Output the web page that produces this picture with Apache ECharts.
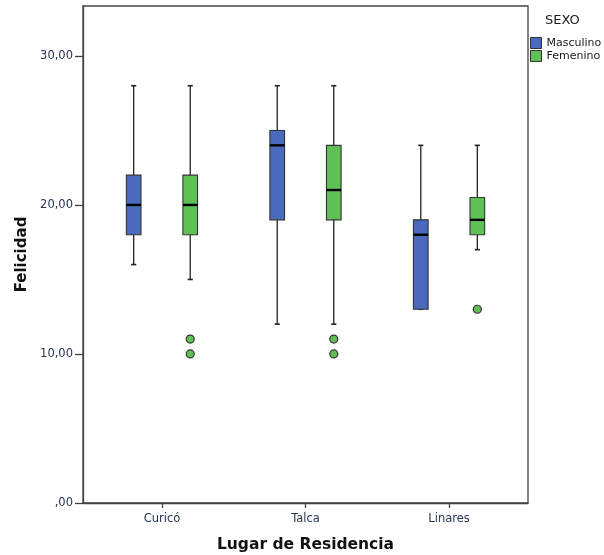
<!DOCTYPE html>
<html>
<head>
<meta charset="utf-8">
<title>Felicidad por Lugar de Residencia</title>
<script src="https://cdn.jsdelivr.net/npm/echarts@6/dist/echarts.min.js"></script>
<style>
  html, body { margin: 0; padding: 0; background: #fff; }
  #chart { width: 604px; height: 555px; }
</style>
</head>
<body>
<div id="chart"></div>
<script>
// Categories on the x axis
const categories = ['Curicó', 'Talca', 'Linares'];

// Box statistics per category: [categoryIndex, min, Q1, median, Q3, max]
const masculinoBoxes = [
  [0, 16, 18, 20, 22, 28],
  [1, 12, 19, 24, 25, 28],
  [2, 13, 13, 18, 19, 24]
];
const femeninoBoxes = [
  [0, 15, 18, 20, 22, 28],
  [1, 12, 19, 21, 24, 28],
  [2, 17, 18, 19, 20.5, 24]
];

// Outliers: [categoryIndex, value]
const masculinoOutliers = [];
const femeninoOutliers = [
  [0, 11], [0, 10],
  [1, 11], [1, 10],
  [2, 13]
];

// Y axis tick values and their labels
const yTickValues = [0, 10, 20, 30];
const yTickLabels = [',00', '10,00', '20,00', '30,00'];

const FONT = 'DejaVu Sans';
const BLUE = '#4a6bbd';
const GREEN = '#5fc056';
const EDGE = '#333333';

// Horizontal offset of each group's box from the category centre, and box half width (axis units)
const GROUP_OFFSET = 0.197;
const BOX_HALF = 0.051;
const CAP_HALF = 0.018;

function boxRenderer(offset, color) {
  return function (params, api) {
    const c = api.value(0);
    const unit = api.size([1, 0])[0];
    const cx = api.coord([c, 0])[0] + offset * unit;
    const half = BOX_HALF * unit;
    const cap = CAP_HALF * unit;
    const y = (i) => api.coord([c, api.value(i)])[1];
    const yMin = y(1), yQ1 = y(2), yMed = y(3), yQ3 = y(4), yMax = y(5);
    const lineStyle = { stroke: '#222', lineWidth: 1.3 };
    return {
      type: 'group',
      children: [
        { type: 'line', shape: { x1: cx, y1: yMax, x2: cx, y2: yQ3 }, style: lineStyle },
        { type: 'line', shape: { x1: cx, y1: yQ1, x2: cx, y2: yMin }, style: lineStyle },
        { type: 'line', shape: { x1: cx - cap, y1: yMax, x2: cx + cap, y2: yMax }, style: { stroke: '#222', lineWidth: 1.6 } },
        { type: 'line', shape: { x1: cx - cap, y1: yMin, x2: cx + cap, y2: yMin }, style: { stroke: '#222', lineWidth: 1.6 } },
        {
          type: 'rect',
          shape: { x: cx - half, y: yQ3, width: 2 * half, height: yQ1 - yQ3 },
          style: { fill: color, stroke: EDGE, lineWidth: 1.1 }
        },
        { type: 'line', shape: { x1: cx - half, y1: yMed, x2: cx + half, y2: yMed }, style: { stroke: '#000', lineWidth: 2.4 } }
      ]
    };
  };
}

function outlierRenderer(offset, color) {
  return function (params, api) {
    const c = api.value(0);
    const unit = api.size([1, 0])[0];
    const p = api.coord([c, api.value(1)]);
    return {
      type: 'circle',
      shape: { cx: p[0] + offset * unit, cy: p[1], r: 4 },
      style: { fill: color, stroke: '#333', lineWidth: 1.2 }
    };
  };
}

const chart = echarts.init(document.getElementById('chart'), null, { renderer: 'canvas' });

chart.setOption({
  animation: false,
  backgroundColor: '#ffffff',
  textStyle: { fontFamily: FONT },
  grid: {
    left: 83, top: 6, right: 76, bottom: 52,
    outerBoundsMode: 'none',
    containLabel: false,
    show: true, borderColor: '#444', borderWidth: 1.3, backgroundColor: 'transparent'
  },
  legend: {
    orient: 'vertical',
    left: 530, top: 37,
    padding: 0,
    itemWidth: 11, itemHeight: 11, itemGap: 1,
    textStyle: { fontFamily: FONT, fontSize: 11, color: '#1a1a1a' },
    itemStyle: { borderColor: '#333', borderWidth: 1 },
    data: [
      { name: 'Masculino', icon: 'rect' },
      { name: 'Femenino', icon: 'rect' }
    ],
    selectedMode: false
  },
  graphic: [{
    type: 'text',
    left: 545, top: 14,
    style: { text: 'SEXO', fontFamily: FONT, fontSize: 13, fill: '#1a1a1a' }
  }],
  xAxis: {
    type: 'value',
    min: -0.55, max: 2.55,
    name: 'Lugar de Residencia',
    nameLocation: 'middle',
    nameGap: 34,
    nameTextStyle: { fontFamily: FONT, fontSize: 15.5, fontWeight: 'bold', color: '#111' },
    splitLine: { show: false },
    axisLine: { show: true, onZero: false, lineStyle: { color: '#444', width: 1.3 } },
    axisTick: { show: true, customValues: [0, 1, 2], length: 5, lineStyle: { color: '#444', width: 1.3 } },
    axisLabel: {
      customValues: [0, 1, 2],
      formatter: (v) => categories[Math.round(v)],
      fontFamily: FONT, fontSize: 11.5, color: '#28344f', margin: 10
    }
  },
  yAxis: {
    type: 'value',
    min: 0, max: 33.35,
    name: 'Felicidad',
    nameLocation: 'middle',
    nameGap: 49,
    nameTextStyle: { fontFamily: FONT, fontSize: 15, fontWeight: 'bold', color: '#111' },
    splitLine: { show: false },
    axisLine: { show: true, onZero: false, lineStyle: { color: '#444', width: 1.3 } },
    axisTick: { show: true, customValues: yTickValues, length: 8, lineStyle: { color: '#444', width: 1.3 } },
    axisLabel: {
      customValues: yTickValues,
      formatter: (v) => yTickLabels[yTickValues.indexOf(Math.round(v))],
      fontFamily: FONT, fontSize: 11.5, color: '#28344f', margin: 10
    }
  },
  series: [
    {
      name: 'Masculino', type: 'custom',
      itemStyle: { color: BLUE },
      encode: { x: 0, y: [1, 2, 3, 4, 5] },
      renderItem: boxRenderer(-GROUP_OFFSET, BLUE),
      data: masculinoBoxes
    },
    {
      name: 'Femenino', type: 'custom',
      itemStyle: { color: GREEN },
      encode: { x: 0, y: [1, 2, 3, 4, 5] },
      renderItem: boxRenderer(GROUP_OFFSET, GREEN),
      data: femeninoBoxes
    },
    {
      name: 'Masculino', type: 'custom',
      itemStyle: { color: BLUE },
      encode: { x: 0, y: 1 },
      renderItem: outlierRenderer(-GROUP_OFFSET, BLUE),
      data: masculinoOutliers
    },
    {
      name: 'Femenino', type: 'custom',
      itemStyle: { color: GREEN },
      encode: { x: 0, y: 1 },
      renderItem: outlierRenderer(GROUP_OFFSET, GREEN),
      data: femeninoOutliers
    }
  ]
});
</script>
</body>
</html>
